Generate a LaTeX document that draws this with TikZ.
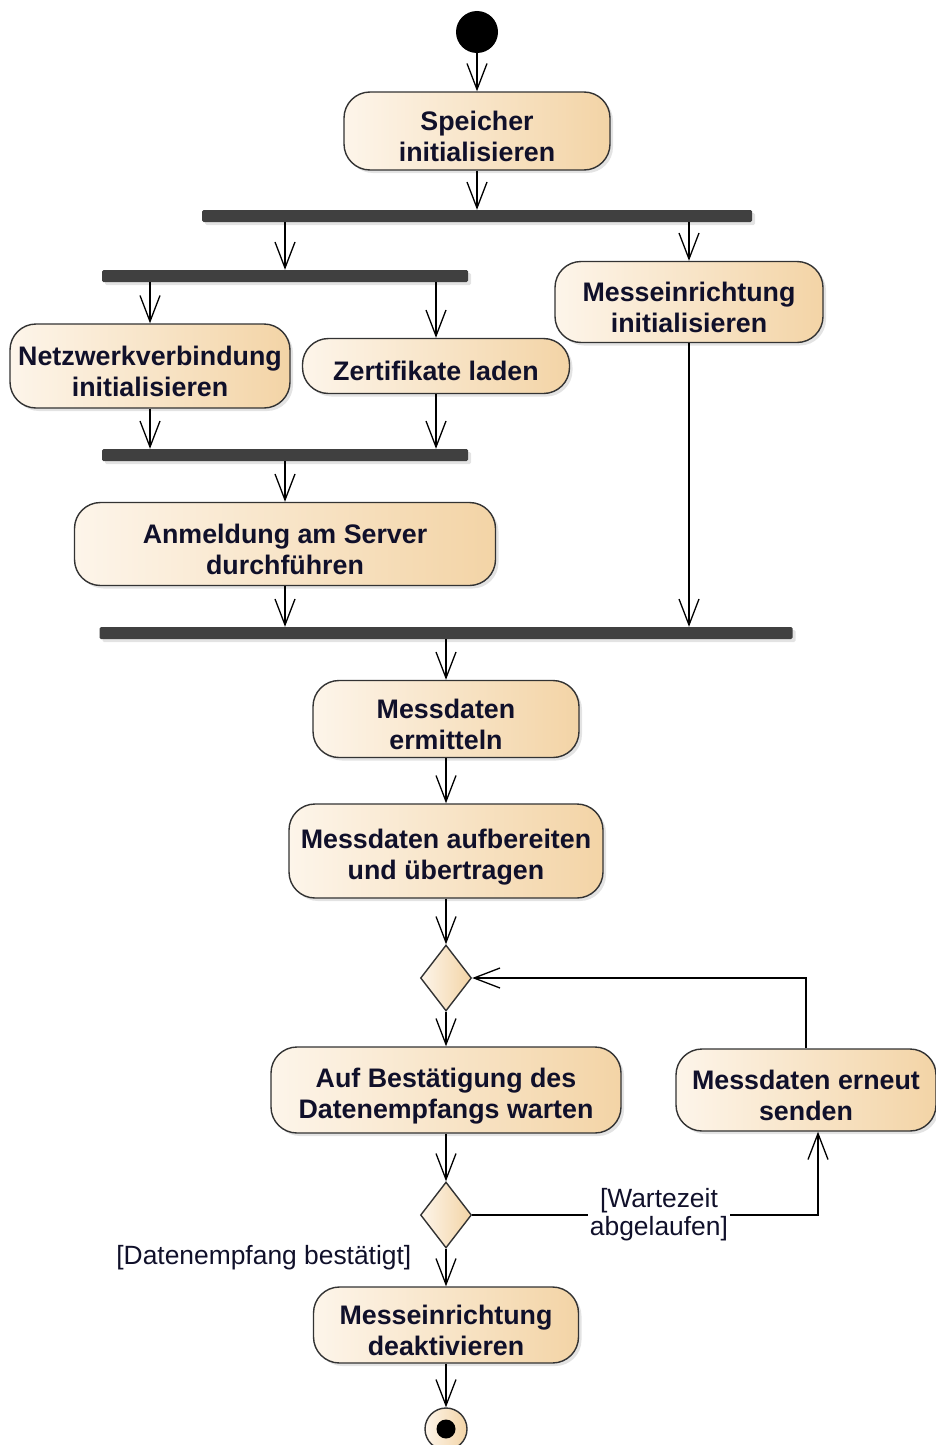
\documentclass[tikz,border=0pt]{standalone}
\usepackage{fontspec}
\setmainfont{Liberation Sans}
\usepackage{tikz}
\usetikzlibrary{positioning,arrows.meta,shapes.geometric,shadows}

\definecolor{actleft}{HTML}{FDF5EA}
\definecolor{actright}{HTML}{F3D4A6}
\definecolor{barcol}{HTML}{404040}
\definecolor{edgecol}{HTML}{333333}
\definecolor{txtcol}{HTML}{10102A}

\tikzset{
  softshadow/.style={drop shadow={shadow xshift=3pt,shadow yshift=-3pt,opacity=0.22}},
  action/.style={draw=edgecol,line width=1.4pt,rounded corners=26pt,left color=actleft,right color=actright,
    align=center,font=\fontsize{26.8}{31}\selectfont\bfseries,text=txtcol,text height=62pt,inner sep=0pt,softshadow},
  bar/.style={fill=barcol,minimum height=12pt,inner sep=0pt,rounded corners=1.5pt,softshadow},
  decision/.style={diamond,draw=edgecol,line width=1.4pt,left color=actleft,right color=actright,
    minimum width=51pt,minimum height=66pt,inner sep=0pt},
  guard/.style={font=\fontsize{26.4}{28}\selectfont,text=txtcol,align=center,inner sep=2pt},
  flow/.style={draw,line width=1.3pt,-{Straight Barb[length=26pt,width=20pt]}}
}

\begin{document}
\begin{tikzpicture}[x=1pt,y=-1pt,on grid]
  \useasboundingbox (0,0) rectangle (936,1445);

  \node[circle,fill=black,minimum size=42pt,inner sep=0pt] (start) at (477,32) {};
  \node[action,minimum width=266pt,minimum height=78pt,below=99pt of start] (speicher) {Speicher\\initialisieren};
  \node[bar,minimum width=550pt,below=85pt of speicher] (bar1) {};
  \node[bar,minimum width=366pt,below left=60pt and 192pt of bar1] (bar2) {};
  \node[action,minimum width=268pt,minimum height=81pt,below right=86pt and 212pt of bar1] (messinit) {Messeinrichtung\\initialisieren};
  \node[action,minimum width=280pt,minimum height=84pt,below left=90pt and 135pt of bar2] (netz) {Netzwerkverbindung\\initialisieren};
  \node[action,minimum width=267pt,minimum height=55pt,text height=29pt,below right=90pt and 151pt of bar2] (zert) {Zertifikate laden};
  \node[bar,minimum width=366pt,below=179pt of bar2] (bar3) {};
  \node[action,minimum width=421pt,minimum height=83pt,below=89pt of bar3] (anmeld) {Anmeldung am Server\\durchführen};
  \node[bar,minimum width=693pt,below right=89pt and 161pt of anmeld] (bar4) {};
  \node[action,minimum width=266pt,minimum height=77pt,below=86pt of bar4] (messerm) {Messdaten\\ermitteln};
  \node[action,minimum width=314pt,minimum height=94pt,below=132pt of messerm] (messauf) {Messdaten aufbereiten\\und übertragen};
  \node[decision,below=127pt of messauf] (dec1) {};
  \node[action,minimum width=350pt,minimum height=86pt,below=112pt of dec1] (warten) {Auf Bestätigung des\\Datenempfangs warten};
  \node[action,minimum width=260pt,minimum height=82pt,right=360pt of warten] (erneut) {Messdaten erneut\\senden};
  \node[decision,below=125pt of warten] (dec2) {};
  \node[action,minimum width=265pt,minimum height=76pt,below=110pt of dec2] (deakt) {Messeinrichtung\\deaktivieren};
  \node[circle,draw=edgecol,line width=1.4pt,left color=actleft,right color=actright,minimum size=42pt,inner sep=0pt,below=104pt of deakt] (final) {};
  \node[circle,fill=black,minimum size=19pt,inner sep=0pt] (finaldot) at (final) {};

  \draw[flow] (start) -- (speicher);
  \draw[flow] (speicher) -- (speicher |- bar1.north);
  \draw[flow] (bar2 |- bar1.south) -- (bar2);
  \draw[flow] (messinit |- bar1.south) -- (messinit);
  \draw[flow] (netz |- bar2.south) -- (netz);
  \draw[flow] (zert |- bar2.south) -- (zert);
  \draw[flow] (netz) -- (netz |- bar3.north);
  \draw[flow] (zert) -- (zert |- bar3.north);
  \draw[flow] (anmeld |- bar3.south) -- (anmeld);
  \draw[flow] (anmeld) -- (anmeld |- bar4.north);
  \draw[flow] (messinit) -- (messinit |- bar4.north);
  \draw[flow] (messerm |- bar4.south) -- (messerm);
  \draw[flow] (messerm) -- (messauf);
  \draw[flow] (messauf) -- (dec1);
  \draw[flow] (dec1) -- (warten);
  \draw[flow] (warten) -- (dec2);
  \draw[flow] (dec2) -- node[guard,anchor=east,pos=0.25,xshift=-32pt] {[Datenempfang bestätigt]} (deakt);
  \draw[flow] (dec2.east) -| node[guard,fill=white,pos=0.27] {[Wartezeit\\abgelaufen]} ([xshift=12pt]erneut.south);
  \draw[flow] (erneut.north) |- (dec1.east);
  \draw[flow] (deakt) -- (final);
\end{tikzpicture}
\end{document}
